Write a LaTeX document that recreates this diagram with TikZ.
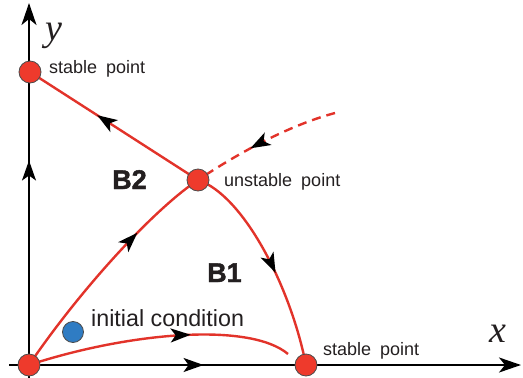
\documentclass[tikz,border=0pt]{standalone}
\usepackage{fontspec}
\setmainfont{Liberation Sans}
\newfontfamily\serifit{Liberation Serif}
\newfontfamily\heavy{Liberation Sans Bold}[FakeBold=1.6]
\usetikzlibrary{arrows.meta,decorations.markings}
\definecolor{cred}{HTML}{E2332A}
\definecolor{dotred}{HTML}{EE3A2C}
\definecolor{dotblue}{HTML}{2F7CC3}
\definecolor{txt}{HTML}{231F20}
\begin{document}
\begin{tikzpicture}[x=1pt,y=-1pt,
  axis/.style={line width=2pt, black},
  sep/.style={line width=2.4pt, cred},
  dot/.style={circle, draw=black!70, line width=0.8pt, fill=dotred, minimum size=22pt, inner sep=0pt},
  ic/.style={dot, fill=dotblue, minimum size=21pt},
  midarrow/.style={postaction={decorate}, decoration={markings, mark=at position #1 with {\arrow{Stealth[length=20pt,width=14pt,inset=5pt,color=black]}}}},
  endarrow/.style={-{Stealth[length=22pt,width=15pt,inset=6pt]}},
  lbl/.style={anchor=base west, inner sep=0pt, text=txt, font=\fontsize{18}{18}\selectfont},
  blbl/.style={anchor=base west, inner sep=0pt, text=txt, font=\heavy\fontsize{27}{27}\selectfont},
  axlbl/.style={anchor=base, inner sep=0pt, text=txt, font=\serifit\itshape\fontsize{38}{38}\selectfont}]
\useasboundingbox (0,0) rectangle (523,378);
\coordinate (o) at (29,365);
\coordinate (s1) at (306,365);
\coordinate (s2) at (30,72);
\coordinate (u) at (198,180);
\coordinate (xa) at (9,365);
\coordinate (xb) at (521,365);
\coordinate (ya) at (29,378);
\coordinate (yb) at (29,3);
\coordinate (de) at (335,113);
\coordinate (ce) at (288,354);
% axes
\draw[axis, endarrow, midarrow=0.38] (xa) -- (xb);
\draw[axis, endarrow, midarrow=0.58] (ya) -- (yb);
% separatrices and trajectories
\draw[sep, midarrow=0.6] (u) -- (s2);
\draw[sep, midarrow=0.68] (o) .. controls (80,290) and (153,210) .. (u);
\draw[sep, midarrow=0.56] (u) .. controls (243,195) and (290,285) .. (s1);
\draw[sep, midarrow=0.62] (o) .. controls (130,332) and (250,322) .. (ce);
\draw[sep, dash pattern=on 9pt off 6pt, midarrow=0.6] (de) .. controls (290,125) and (240,152) .. (u);
% points
\node[dot] (O) at (o) {};
\node[dot] (S1) at (s1) {};
\node[dot] (S2) at (s2) {};
\node[dot] (U) at (u) {};
\node[ic] (IC) at (73,332) {};
% labels
\node[lbl] (l1) at (49,73) {stable\hspace{4pt} point};
\node[lbl] (l2) at (224,186) {unstable\hspace{4pt} point};
\node[lbl] (l3) at (323,355) {stable\hspace{4pt} point};
\node[lbl, font=\fontsize{23.3}{23.3}\selectfont] (l4) at (91,326) {initial condition};
\node[blbl] (b2) at (112,189) {B2};
\node[blbl] (b1) at (207,282) {B1};
\node[axlbl] (ly) at (54,40) {y};
\node[axlbl] (lx) at (498,342) {x};
\end{tikzpicture}
\end{document}
